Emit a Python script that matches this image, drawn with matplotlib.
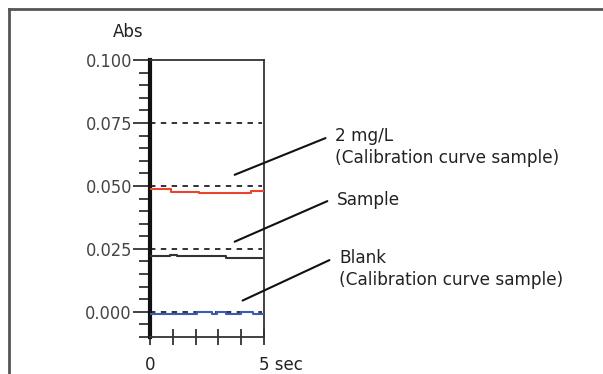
import matplotlib.pyplot as plt
from matplotlib.lines import Line2D
from matplotlib import font_manager
import matplotlib.transforms as mtransforms

# step traces (time in sec, Abs)
t_std = [0.0, 0.92, 0.92, 2.15, 2.15, 4.43, 4.43, 5.0]
abs_std = [0.0487, 0.0487, 0.0477, 0.0477, 0.0471, 0.0471, 0.0480, 0.0480]

t_sample = [0.0, 0.88, 0.88, 1.18, 1.18, 3.33, 3.33, 5.0]
abs_sample = [0.0222, 0.0222, 0.0227, 0.0227, 0.0221, 0.0221, 0.0214, 0.0214]

t_blank = [0.0, 2.05, 2.05, 2.71, 2.71, 2.93, 2.93, 3.33, 3.33, 4.0, 4.0, 4.53, 4.53, 5.0]
abs_blank = [-0.0007, -0.0007, -0.0001, -0.0001, -0.0007, -0.0007, -0.0001, -0.0001,
             -0.0007, -0.0007, -0.0001, -0.0001, -0.0007, -0.0007]

ref_levels = [0.075, 0.050, 0.025, 0.000]
y_ticks = [0.000, 0.025, 0.050, 0.075, 0.100]
x_ticks = [0, 1, 2, 3, 4, 5]
x_labels = ['0', '', '', '', '', '5 sec']

labels = ['2 mg/L\n(Calibration curve sample)', 'Sample', 'Blank\n(Calibration curve sample)']
label_from = [(3.60, 0.054), (3.60, 0.0274), (3.95, 0.0040)]
label_to = [(7.81, 0.0694), (7.89, 0.0444), (7.98, 0.0210)]

# a condensed face for the tick numbers, if one is there
narrow = dict(family='DejaVu Sans', stretch='condensed')
names = {f.name for f in font_manager.fontManager.ttflist}
if 'Liberation Sans Narrow' in names:
    narrow = dict(family='Liberation Sans Narrow', stretch='normal')

fig = plt.figure(figsize=(6.03, 3.74), dpi=100)
W, H = 603, 374
ax = fig.add_axes([150 / W, 1 - 337 / H, 114 / W, 277 / H])

# dashed reference levels
for lv in ref_levels:
    ax.plot([0, 4.9], [lv, lv], color='#222222', lw=1.3, ls=(0, (3, 3)), zorder=2)

ax.plot(t_std, abs_std, color='#e8452c', lw=1.5, zorder=3)
ax.plot(t_sample, abs_sample, color='#333333', lw=1.5, zorder=3)
ax.plot(t_blank, abs_blank, color='#3c5cb4', lw=1.5, zorder=3)

ax.set_xlim(0, 5)
ax.set_ylim(-0.010, 0.100)

ax.set_yticks(y_ticks)
ax.set_yticklabels(['%.3f' % v for v in y_ticks])
ax.set_yticks([i * 0.005 for i in range(-2, 20)], minor=True)
ax.tick_params(axis='y', which='major', length=12, width=1.3, color='#333333', pad=1,
               labelsize=13, labelcolor='#444444')
ax.tick_params(axis='y', which='minor', length=8, width=1.3, color='#333333')
for lab in ax.get_yticklabels():
    lab.set_family(narrow['family'])
    lab.set_stretch(narrow['stretch'])

ax.set_xticks(x_ticks)
ax.set_xticklabels(x_labels)
ax.tick_params(axis='x', direction='inout', length=12, width=1.3, color='#333333', pad=8,
               labelsize=12, labelcolor='#222222')
last = ax.get_xticklabels()[-1]
last.set_horizontalalignment('left')
last.set_transform(last.get_transform() + mtransforms.ScaledTranslation(-5 / 100, 0, fig.dpi_scale_trans))

for side in ['top', 'right', 'bottom']:
    ax.spines[side].set_color('#333333')
    ax.spines[side].set_linewidth(1.3)
ax.spines['left'].set_linewidth(3)
ax.spines['left'].set_color('#111111')

ax.text(-0.19, 1.10, 'Abs', transform=ax.transAxes, fontsize=12, color='#222222',
        ha='center', va='center')

for lab, p0, p1 in zip(labels, label_from, label_to):
    ax.annotate('', xy=p0, xytext=p1, arrowprops=dict(arrowstyle='-', color='#111111', lw=1.5),
                annotation_clip=False)
    ax.annotate(lab, xy=p1, xytext=(7, 10 if '\n' in lab else 0), textcoords='offset pixels',
                fontsize=12.2, color='#222222', ha='left', va='top' if '\n' in lab else 'center',
                linespacing=1.3, annotation_clip=False)

# outer frame (top and left only)
fig.add_artist(Line2D([8.5 / W, 1], [1 - 9 / H, 1 - 9 / H], color='#555555', lw=2))
fig.add_artist(Line2D([8.5 / W, 8.5 / W], [0, 1 - 9 / H], color='#555555', lw=2))

fig.savefig('out.png', dpi=100)
